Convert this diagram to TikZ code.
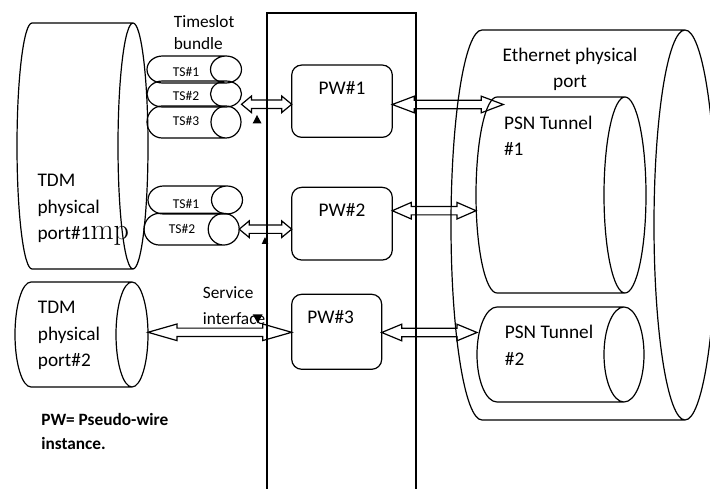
\documentclass[tikz,border=0pt]{standalone}
\usepackage{fontspec}
\setsansfont{Carlito}
\usepackage{tikz}
\usetikzlibrary{calc}

\begin{document}
\begin{tikzpicture}
		[x=1pt, y=-1pt, line width=1.2pt,
		pics/cyl/.style args={#1/#2/#3}{code={
			\draw (-#1,-#2) -- (#1,-#2) (-#1,#2) -- (#1,#2)
				(#1,0) ellipse [x radius=#3, y radius=#2]
				(-#1,-#2) arc [start angle=270, end angle=90, x radius=#3, y radius=#2];
			\coordinate (-east) at (#1+#3,0);
			\coordinate (-west) at (-#1-#3,0);}},
		pwbox/.style={draw, rounded corners=10pt, inner sep=0pt, outer sep=0pt},
		pwlabel/.style={anchor=base, inner sep=0pt, yshift=-29pt, font=\sffamily\fontsize{19.3}{22}\selectfont},
		txt/.style={inner sep=0pt, align=left, font=\sffamily\fontsize{19.3}{26.5}\selectfont},
		smalltxt/.style={txt, font=\sffamily\fontsize{17.3}{#1}\selectfont},
		tstxt/.style={inner sep=0pt, anchor=base, font=\sffamily\fontsize{13.5}{16}\selectfont},
		dblarrow/.style={to path={let \p1=(\tikztostart), \p2=(\tikztotarget) in
			(\x1,\y1) -- (\x1+#1,\y1+8.3pt) -- (\x1+#1,\y1+4.2pt) -- (\x2-#1,\y1+4.2pt)
			-- (\x2-#1,\y1+8.3pt) -- (\x2,\y1) -- (\x2-#1,\y1-8.3pt) -- (\x2-#1,\y1-4.2pt)
			-- (\x1+#1,\y1-4.2pt) -- (\x1+#1,\y1-8.3pt) -- cycle}}]
		\useasboundingbox (0,0) rectangle (710,489);
		\pic (tdm1) at (82.5,146) {cyl={50.5/123/15}};
		\pic (tdm2) at (81.5,334.5) {cyl={50.5/52.5/16}};
		\pic (eth) at (583.5,225) {cyl={101.5/195/31}};
		\pic (psn1) at (561,195) {cyl={64/98/21}};
		\pic (psn2) at (560.5,354.5) {cyl={63.5/47.5/20}};
		\pic (ts1a) at (194.25,69.5) {cyl={31.75/13.5/15.5}};
		\pic (ts2a) at (194.25,94) {cyl={31.75/13/15.5}};
		\pic (ts3a) at (194,122) {cyl={32/16/15}};
		\pic (ts1b) at (195.25,200) {cyl={31.75/14/15.5}};
		\pic (ts2b) at (191.6,229.2) {cyl={32.1/15.85/15.5}};
		\node[tstxt] (ts1atxt) at (186,76.7) {TS\#1};
		\node[tstxt] (ts2atxt) at (186,101) {TS\#2};
		\node[tstxt] (ts3atxt) at (186,125.7) {TS\#3};
		\node[tstxt] (ts1btxt) at (186,208.3) {TS\#1};
		\node[tstxt] (ts2btxt) at (182,233.3) {TS\#2};
		\node[pwbox, minimum width=100.6pt, minimum height=72.3pt, label={[pwlabel]north:PW\#1}] (pw1) at (342,101.2) {};
		\node[pwbox, minimum width=100.6pt, minimum height=72.7pt, label={[pwlabel]north:PW\#2}] (pw2) at (342,223.7) {};
		\node[pwbox, minimum width=90pt, minimum height=75pt, label={[pwlabel, xshift=-6pt]north:PW\#3}] (pw3) at (336.7,331.8) {};
		\node[smalltxt=22.7, anchor=base west] (slottxt) at (173.3,50) {Timeslot\\bundle};
		\node[txt, anchor=base west] (tdm1txt) at (37,240) {TDM\\physical\\port\#1{\rmfamily\fontsize{30}{30}\selectfont mp}};
		\node[txt, anchor=base west] (tdm2txt) at (37.3,366.7) {TDM\\physical\\port\#2};
		\node[txt, align=center, anchor=base] (ethtxt) at (570,87.7) {Ethernet physical\\port};
		\node[txt, anchor=base west] (psn1txt) at (503.5,156) {PSN Tunnel\\\#1};
		\node[txt, anchor=base west] (psn2txt) at (504.3,365) {PSN Tunnel\\\#2};
		\node[smalltxt=25.7, anchor=base west] (svctxt) at (202.3,324) {Service\\interface};
		\node[txt, anchor=base west, font=\sffamily\bfseries\fontsize{17.3}{23.3}\selectfont] (pwnote) at (40.7,449) {PW= Pseudo-wire\\instance.};
		\coordinate (pw1out) at (503.3,104.5);
		\draw[dblarrow=10pt] ([yshift=-10.3pt]ts2a-east) to (pw1.west);
		\draw[dblarrow=10pt] (ts2b-east) to (pw2.west);
		\draw[dblarrow=29pt] ([yshift=2.2pt]tdm2-east) to (pw3.west);
		\draw[dblarrow=22pt] ([yshift=-3.3pt]pw1.east) to (pw1out);
		\draw[dblarrow=19pt] ([yshift=13pt]pw2.east) to (psn1-west);
		\draw[dblarrow=20pt] ([yshift=-0.7pt]pw3.east) to (psn2-west);
		\draw (267,489) |- (416,13) -- (416,489);
		\fill (257,115) -- (261.5,123.3) -- (252.7,123.3) -- cycle;
		\fill (265,237) -- (268.3,244) -- (261.7,244) -- cycle;
		\fill (252.7,314.3) -- (262.7,314.3) -- (257.7,323.3) -- cycle;
\end{tikzpicture}
\end{document}
